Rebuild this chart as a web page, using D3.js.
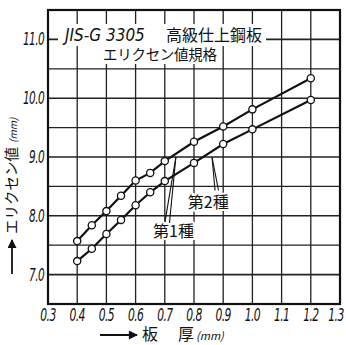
<!DOCTYPE html>
<html>
<head>
<meta charset="utf-8">
<script src="https://cdn.jsdelivr.net/npm/d3@7"></script>
<style>
  body { margin: 0; background: #fff; }
  svg { display: block; }
  .tick-label { font-family: "DejaVu Sans", sans-serif; font-style: italic; fill: #111; }
  .jp { font-family: "Noto Sans CJK JP", sans-serif; fill: #111; }
</style>
</head>
<body>
<div class="content"></div>
<script>
var width = 346
var height = 345

// 板厚 (mm)
var thickness = [0.4, 0.45, 0.5, 0.55, 0.6, 0.65, 0.7, 0.8, 0.9, 1.0, 1.2]
// エリクセン値 (mm)
var grade1 = [7.57, 7.84, 8.08, 8.34, 8.6, 8.73, 8.93, 9.26, 9.52, 9.81, 10.34]
var grade2 = [7.23, 7.44, 7.69, 7.93, 8.18, 8.4, 8.59, 8.9, 9.22, 9.47, 9.97]

var xTicks = [0.3, 0.4, 0.5, 0.6, 0.7, 0.8, 0.9, 1.0, 1.1, 1.2, 1.3]
var yTicks = [7.0, 8.0, 9.0, 10.0, 11.0]
var yGrid = [7.0, 7.5, 8.0, 8.5, 9.0, 9.5, 10.0, 10.5, 11.0]

var x = d3.scaleLinear().domain([0.3, 1.3]).range([48, 340])
var y = d3.scaleLinear().domain([6.5, 11.5]).range([304, 10])

var svg = d3.select('.content').append('svg')
    .attr('width', width)
    .attr('height', height)

svg.append('rect').attr('width', width).attr('height', height).attr('fill', '#fff')

var plot = svg.append('g').attr('class', 'plot')

// grid
plot.append('g').selectAll('line')
    .data(xTicks.slice(1, -1))
    .enter().append('line')
    .attr('x1', d => x(d)).attr('x2', d => x(d))
    .attr('y1', y(6.5)).attr('y2', y(11.5))
    .attr('stroke', '#222')
    .attr('stroke-width', 1.3)

plot.append('g').selectAll('line')
    .data(yGrid)
    .enter().append('line')
    .attr('x1', x(0.3)).attr('x2', x(1.3))
    .attr('y1', d => y(d)).attr('y2', d => y(d))
    .attr('stroke', '#222')
    .attr('stroke-width', d => d % 1 === 0 ? 1.6 : 1.3)

// title, on a white patch that hides the grid behind it
var title = svg.append('g').attr('class', 'title')
title.append('rect').attr('x', 58).attr('y', 24).attr('width', 208).attr('height', 22).attr('fill', '#fff')
title.append('rect').attr('x', 99).attr('y', 46).attr('width', 120).attr('height', 18).attr('fill', '#fff')
title.append('text')
    .attr('class', 'tick-label')
    .attr('transform', 'translate(65,41) scale(0.85,1)')
    .attr('font-size', 18)
    .attr('font-weight', 300)
    .text('JIS-G 3305')
title.append('text')
    .attr('class', 'jp')
    .attr('x', 166).attr('y', 41)
    .attr('font-size', 16)
    .text('高級仕上鋼板')
title.append('text')
    .attr('class', 'jp')
    .attr('x', 103).attr('y', 60)
    .attr('font-size', 14.5)
    .attr('textLength', 114)
    .text('エリクセン値規格')

// frame
plot.append('rect')
    .attr('x', x(0.3)).attr('y', y(11.5))
    .attr('width', x(1.3) - x(0.3))
    .attr('height', y(6.5) - y(11.5))
    .attr('fill', 'none')
    .attr('stroke', '#111')
    .attr('stroke-width', 2.2)

// series lines
var line = d3.line()
    .x((d, i) => x(thickness[i]))
    .y(d => y(d))

var series = [grade1, grade2]

plot.selectAll('path.series')
    .data(series)
    .enter().append('path')
    .attr('class', 'series')
    .attr('d', line)
    .attr('fill', 'none')
    .attr('stroke', '#111')
    .attr('stroke-width', 2.2)

series.forEach(function(s) {
    plot.append('g').selectAll('circle')
        .data(s)
        .enter().append('circle')
        .attr('cx', (d, i) => x(thickness[i]))
        .attr('cy', d => y(d))
        .attr('r', 3.6)
        .attr('fill', '#fff')
        .attr('stroke', '#111')
        .attr('stroke-width', 1.3)
})

// annotations
var labels = [
    { text: '第1種', x: 0.66, y: 7.64, tip: [0.738, 9.0], tails: [[0.70, 7.88], [0.716, 7.88]] },
    { text: '第2種', x: 0.779, y: 8.13, tip: [0.862, 8.99], tails: [[0.872, 8.43], [0.884, 8.43]] }
]

labels.forEach(function(l) {
    l.tails.forEach(function(t) {
        plot.append('line')
            .attr('x1', x(t[0])).attr('y1', y(t[1]))
            .attr('x2', x(l.tip[0])).attr('y2', y(l.tip[1]))
            .attr('stroke', '#111')
            .attr('stroke-width', 1.1)
    })
    plot.append('text')
        .attr('class', 'jp')
        .attr('x', x(l.x)).attr('y', y(l.y))
        .attr('font-size', 16)
        .attr('stroke', '#fff').attr('stroke-width', 4).attr('paint-order', 'stroke')
        .text(l.text)
})

// y tick labels (condensed)
svg.append('g').selectAll('text')
    .data(yTicks)
    .enter().append('text')
    .attr('class', 'tick-label')
    .attr('transform', d => 'translate(44,' + (y(d) + 6) + ') scale(0.62,1)')
    .attr('text-anchor', 'end')
    .attr('font-size', 17)
    .attr('letter-spacing', -1)
    .text(d => d.toFixed(1))

// x tick labels (condensed), last one kept inside the page
svg.append('g').selectAll('text')
    .data(xTicks)
    .enter().append('text')
    .attr('class', 'tick-label')
    .attr('transform', d => 'translate(' + Math.min(x(d), width - 10) + ',321) scale(0.6,1)')
    .attr('text-anchor', 'middle')
    .attr('font-size', 18)
    .attr('letter-spacing', -1)
    .text(d => d.toFixed(1))

// arrow marker
svg.append('defs').append('marker')
    .attr('id', 'arrow')
    .attr('viewBox', '0 0 10 10')
    .attr('refX', 9).attr('refY', 5)
    .attr('markerWidth', 7).attr('markerHeight', 5)
    .attr('orient', 'auto')
    .append('path')
    .attr('d', 'M0,0L10,5L0,10z')
    .attr('fill', '#111')

// x axis title
svg.append('line')
    .attr('x1', 100).attr('y1', 335).attr('x2', 137).attr('y2', 335)
    .attr('stroke', '#111').attr('stroke-width', 1.8)
    .attr('marker-end', 'url(#arrow)')
var xt = svg.append('text').attr('class', 'jp').attr('y', 340)
xt.append('tspan').attr('x', 142).attr('font-size', 16).text('板')
xt.append('tspan').attr('x', 178).attr('font-size', 16).text('厚')
xt.append('tspan').attr('font-size', 11).attr('font-style', 'italic').attr('dx', 2).text('(mm)')

// y axis title
svg.append('line')
    .attr('x1', 12).attr('y1', 274).attr('x2', 12).attr('y2', 240)
    .attr('stroke', '#111').attr('stroke-width', 1.8)
    .attr('marker-end', 'url(#arrow)')
var yt = svg.append('text').attr('class', 'jp')
    .attr('transform', 'translate(17,234) rotate(-90)')
yt.append('tspan').attr('x', 0).attr('font-size', 14.5).text('エリクセン値')
yt.append('tspan').attr('dx', 4).attr('font-size', 10).attr('font-style', 'italic').text('(mm)')
</script>
</body>
</html>
